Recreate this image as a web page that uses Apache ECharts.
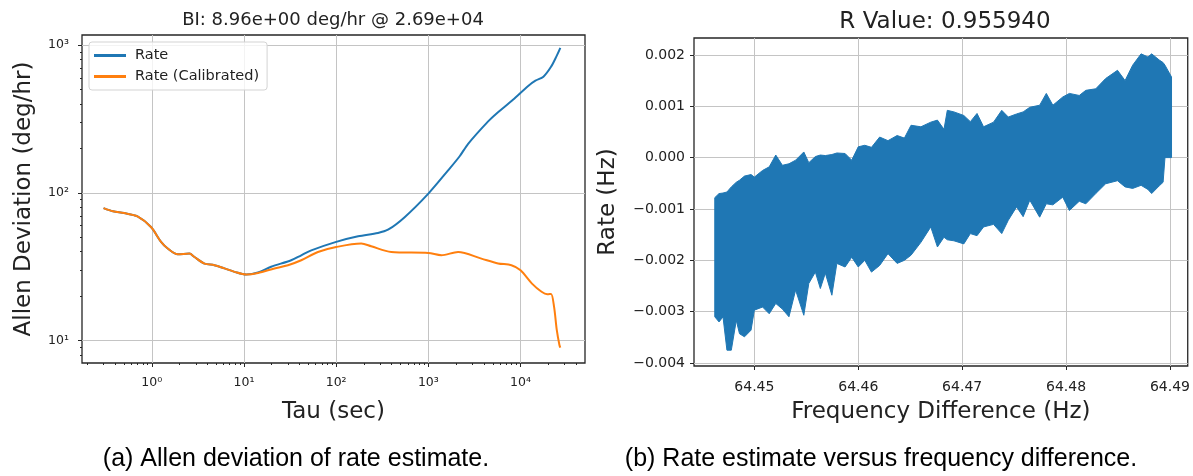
<!DOCTYPE html>
<html>
<head>
<meta charset="utf-8">
<script src="https://cdn.jsdelivr.net/npm/echarts@6/dist/echarts.min.js"></script>
<style>
  html, body { margin: 0; padding: 0; background: #fff; }
  #main { width: 1193px; height: 476px; }
</style>
</head>
<body>
<div id="main"></div>
<script>
// (a) Allen deviation
const tauRate = [0.30, 0.38, 0.50, 0.70, 0.98, 1.26, 1.49, 1.91, 2.56, 2.90, 3.73, 4.78, 6.14, 7.89, 10.6, 14.2, 19.7, 32.5, 41.8, 53.7, 100, 173, 284, 365, 553, 1000, 1637, 2185, 2700, 4450, 5500, 8270, 12100, 14500, 17700, 21400, 24500, 27000]
const devRate = [78.9, 75.0, 73.0, 69.3, 58.7, 46.6, 42.0, 38.4, 38.8, 36.8, 33.2, 32.4, 30.8, 29.2, 28.0, 28.9, 31.6, 35.0, 37.8, 40.8, 46.6, 50.8, 53.5, 56.3, 68.5, 98.9, 142, 177, 215, 305, 345, 427, 530, 575, 612, 714, 840, 960]

const tauCal = [0.30, 0.38, 0.50, 0.70, 0.98, 1.26, 1.49, 1.91, 2.56, 2.90, 3.73, 4.78, 6.14, 7.89, 10.6, 14.2, 21.4, 30, 41.8, 63.4, 100, 187, 240, 396, 1000, 1383, 2100, 3760, 5710, 7960, 10000, 13300, 16900, 19500, 21400, 23100, 24700, 26400, 27000]
const devCal = [78.9, 75.0, 73.0, 69.3, 58.7, 46.6, 42.0, 38.4, 38.8, 36.8, 33.2, 32.4, 30.8, 29.2, 28.0, 28.7, 30.8, 32.4, 35.0, 39.8, 43.0, 45.4, 43.5, 39.8, 39.2, 37.8, 39.8, 35.9, 33.3, 32.4, 29.9, 24.3, 21.4, 20.6, 20.7, 16.9, 11.8, 9.33, 8.96]

const tauTicks = [1, 10, 100, 1000, 10000]
const tauTickLabels = ['10⁰', '10¹', '10²', '10³', '10⁴']
const devTicks = [10, 100, 1000]
const devTickLabels = ['10¹', '10²', '10³']

// (b) rate vs frequency difference: upper / lower envelope of the noisy trace
const freq = [64.44619, 64.44660, 64.44698, 64.44736, 64.44778, 64.44826, 64.44857, 64.44905, 64.44968, 64.45000,
  64.45079, 64.45143, 64.45206, 64.45270, 64.45333, 64.45397, 64.45476, 64.45524, 64.45587, 64.45635,
  64.45683, 64.45746, 64.45794, 64.45873, 64.45937, 64.46000, 64.46063, 64.46127, 64.46206, 64.46286,
  64.46374, 64.46444, 64.46508, 64.46603, 64.46698, 64.46762, 64.46825, 64.46857, 64.46921, 64.47016,
  64.47079, 64.47143, 64.47206, 64.47302, 64.47381, 64.47444, 64.47524, 64.47587, 64.47651, 64.47746,
  64.47810, 64.47873, 64.47968, 64.48032, 64.48127, 64.48190, 64.48286, 64.48381, 64.48495, 64.48568,
  64.48641, 64.48722, 64.48788, 64.48824, 64.48897, 64.48934, 64.48952, 64.49015]
const rateHigh = [-0.00078, -0.00070, -0.00069, -0.00067, -0.00057, -0.00048, -0.00044, -0.00036, -0.00033, -0.00038,
  -0.00025, -0.00018, 0.00005, -0.00015, -0.00012, -0.00005, 0.00011, -0.00010, 0.00002, 0.00005,
  0.00004, 0.00006, 0.00009, 0.00008, -0.00005, 0.00021, 0.00024, 0.00020, 0.00040, 0.00033,
  0.00043, 0.00038, 0.00063, 0.00060, 0.00069, 0.00073, 0.00055, 0.00092, 0.00089, 0.00082,
  0.00070, 0.00086, 0.00060, 0.00069, 0.00092, 0.00079, 0.00085, 0.00089, 0.00098, 0.00102,
  0.00125, 0.00102, 0.00118, 0.00125, 0.00121, 0.00131, 0.00134, 0.00154, 0.00170, 0.00150,
  0.00180, 0.00202, 0.00196, 0.00202, 0.00190, 0.00185, 0.00180, 0.00157]
const rateLow = [-0.00310, -0.00320, -0.00310, -0.00375, -0.00375, -0.00317, -0.00343, -0.00349, -0.00336, -0.00297,
  -0.00291, -0.00304, -0.00284, -0.00295, -0.00310, -0.00258, -0.00307, -0.00245, -0.00223, -0.00255,
  -0.00225, -0.00268, -0.00206, -0.00213, -0.00194, -0.00213, -0.00200, -0.00223, -0.00210, -0.00187,
  -0.00206, -0.00200, -0.00190, -0.00165, -0.00135, -0.00174, -0.00155, -0.00160, -0.00162, -0.00168,
  -0.00148, -0.00152, -0.00135, -0.00130, -0.00148, -0.00122, -0.00096, -0.00115, -0.00083, -0.00116,
  -0.00090, -0.00092, -0.00077, -0.00103, -0.00085, -0.00090, -0.00070, -0.00051, -0.00045, -0.00057,
  -0.00060, -0.00054, -0.00062, -0.00070, -0.00055, -0.00048, 0.00000, 0.00000]

const freqTicks = [64.45, 64.46, 64.47, 64.48, 64.49]
const freqTickLabels = ['64.45', '64.46', '64.47', '64.48', '64.49']
const rateTicks = [-0.004, -0.003, -0.002, -0.001, 0, 0.001, 0.002]
const rateTickLabels = ['\u22120.004', '\u22120.003', '\u22120.002', '\u22120.001', '0.000', '0.001', '0.002']

const blue = '#1f77b4'
const orange = '#ff7f0e'
const ink = '#262626'
const gridGray = '#c4c4c4'
const font = 'DejaVu Sans'

// log minor ticks at 2..9 x 10^k inside the axis range
const minorLogTicks = (lo, hi) => {
    const out = []
    for (let k = -2; k <= 5; k++) {
        for (let m = 2; m <= 9; m++) {
            const v = m * Math.pow(10, k)
            if (v > lo && v < hi) out.push(v)
        }
    }
    return out
}

const labelOf = (ticks, labels) => (v) => {
    const i = ticks.findIndex(t => Math.abs(t - v) <= 1e-9 * Math.max(1, Math.abs(t)))
    return i < 0 ? '' : labels[i]
}

const tauMin = 0.175, tauMax = 50000
const devMin = 7.05, devMax = 1172
// the right panel is cut by the page edge, so its x range ends where the page does
const freqMin = 64.44419, freqMax = 64.49171

const chart = echarts.init(document.getElementById('main'))

const option = {
    animation: false,
    textStyle: { fontFamily: font },
    grid: [
        { left: 82, top: 35, width: 503, height: 328, show: true, borderColor: ink, borderWidth: 1.3, backgroundColor: 'transparent' },
        { left: 694, top: 38, width: 499, height: 328, show: true, borderColor: ink, borderWidth: 1.3, backgroundColor: 'transparent' }
    ],
    legend: {
        left: 89, top: 42,
        orient: 'vertical',
        data: ['Rate', 'Rate (Calibrated)'],
        icon: 'rect',
        itemWidth: 32, itemHeight: 3, itemGap: 6,
        padding: [6, 8, 6, 5],
        borderColor: '#d3d3d3', borderWidth: 1, borderRadius: 3,
        backgroundColor: 'rgba(255,255,255,0.8)',
        textStyle: { fontFamily: font, fontSize: 14.5, color: '#222', padding: [0, 0, 0, 4] }
    },
    xAxis: [
        {
            type: 'log', gridIndex: 0, min: tauMin, max: tauMax, position: 'bottom',
            name: 'Tau (sec)', nameLocation: 'middle', nameGap: 38,
            nameTextStyle: { fontFamily: font, fontSize: 23, color: '#222' },
            axisLine: { show: false, onZero: false },
            axisTick: { show: true, length: 4, customValues: tauTicks, lineStyle: { color: ink, width: 1 } },
            axisLabel: { customValues: tauTicks, formatter: labelOf(tauTicks, tauTickLabels), fontSize: 12.5, color: '#222', margin: 13, fontFamily: font },
            splitLine: { show: true, lineStyle: { color: gridGray, width: 1 } }
        },
        {
            type: 'log', gridIndex: 0, min: tauMin, max: tauMax, position: 'bottom',
            axisLine: { show: false, onZero: false },
            axisTick: { show: true, length: 2, customValues: minorLogTicks(tauMin, tauMax), lineStyle: { color: ink, width: 1 } },
            axisLabel: { show: false },
            splitLine: { show: false }
        },
        {
            type: 'value', gridIndex: 1, min: freqMin, max: freqMax, position: 'bottom',
            name: 'Frequency Difference (Hz)', nameLocation: 'middle', nameGap: 35,
            nameTextStyle: { fontFamily: font, fontSize: 23, color: '#222' },
            axisLine: { show: false, onZero: false },
            axisTick: { show: true, length: 4, customValues: freqTicks, lineStyle: { color: ink, width: 1 } },
            axisLabel: { customValues: freqTicks, formatter: labelOf(freqTicks, freqTickLabels), fontSize: 14, color: '#222', margin: 14, fontFamily: font },
            splitLine: { show: true, lineStyle: { color: gridGray, width: 1 } }
        }
    ],
    yAxis: [
        {
            type: 'log', gridIndex: 0, min: devMin, max: devMax, position: 'left',
            name: 'Allen Deviation (deg/hr)', nameLocation: 'middle', nameGap: 46,
            nameTextStyle: { fontFamily: font, fontSize: 23, color: '#222' },
            axisLine: { show: false, onZero: false },
            axisTick: { show: true, length: 4, customValues: devTicks, lineStyle: { color: ink, width: 1 } },
            axisLabel: { customValues: devTicks, formatter: labelOf(devTicks, devTickLabels), fontSize: 12.5, color: '#222', margin: 13, fontFamily: font },
            splitLine: { show: true, lineStyle: { color: gridGray, width: 1 } }
        },
        {
            type: 'log', gridIndex: 0, min: devMin, max: devMax, position: 'left',
            axisLine: { show: false, onZero: false },
            axisTick: { show: true, length: 2, customValues: minorLogTicks(devMin, devMax), lineStyle: { color: ink, width: 1 } },
            axisLabel: { show: false },
            splitLine: { show: false }
        },
        {
            type: 'value', gridIndex: 1, min: -0.004058, max: 0.002329, position: 'left',
            name: 'Rate (Hz)', nameLocation: 'middle', nameGap: 74,
            nameTextStyle: { fontFamily: font, fontSize: 23, color: '#222' },
            axisLine: { show: false, onZero: false },
            axisTick: { show: true, length: 4, customValues: rateTicks, lineStyle: { color: ink, width: 1 } },
            axisLabel: { customValues: rateTicks, formatter: labelOf(rateTicks, rateTickLabels), fontSize: 14, color: '#222', margin: 9, fontFamily: font },
            splitLine: { show: true, lineStyle: { color: gridGray, width: 1 } }
        }
    ],
    series: [
        {
            name: 'Rate', type: 'line', xAxisIndex: 0, yAxisIndex: 0,
            data: tauRate.map((t, i) => [t, devRate[i]]),
            symbol: 'none', smooth: 0.3,
            lineStyle: { color: blue, width: 2 }, itemStyle: { color: blue }
        },
        {
            name: 'Rate (Calibrated)', type: 'line', xAxisIndex: 0, yAxisIndex: 0,
            data: tauCal.map((t, i) => [t, devCal[i]]),
            symbol: 'none', smooth: 0.3,
            lineStyle: { color: orange, width: 2 }, itemStyle: { color: orange }
        },
        {
            // filled band between the lower and upper envelope of the trace
            name: 'rate', type: 'custom', xAxisIndex: 2, yAxisIndex: 2,
            data: freq.map((f, i) => [f, rateLow[i], rateHigh[i]]),
            encode: { x: 0, y: [1, 2] },
            clip: true,
            renderItem: (params, api) => {
                if (params.dataIndex !== 0) return null
                const top = freq.map((f, i) => api.coord([f, rateHigh[i]]))
                const bottom = freq.map((f, i) => api.coord([f, rateLow[i]])).reverse()
                return {
                    type: 'polygon',
                    shape: { points: top.concat(bottom) },
                    style: { fill: blue, stroke: blue, lineWidth: 1 }
                }
            }
        }
    ],
    graphic: [
        { type: 'text', x: 333, y: 20, style: { text: 'BI: 8.96e+00 deg/hr @ 2.69e+04', font: '18px "DejaVu Sans"', fill: '#222', align: 'center', verticalAlign: 'middle' } },
        { type: 'text', x: 945, y: 22, style: { text: 'R Value: 0.955940', font: '23px "DejaVu Sans"', fill: '#222', align: 'center', verticalAlign: 'middle' } },
        { type: 'text', x: 296, y: 459, style: { text: '(a) Allen deviation of rate estimate.', font: '25px "Liberation Sans"', fill: '#000', align: 'center', verticalAlign: 'middle' } },
        { type: 'text', x: 881, y: 459, style: { text: '(b) Rate estimate versus frequency difference.', font: '25px "Liberation Sans"', fill: '#000', align: 'center', verticalAlign: 'middle' } }
    ]
}

chart.setOption(option)
</script>
</body>
</html>
